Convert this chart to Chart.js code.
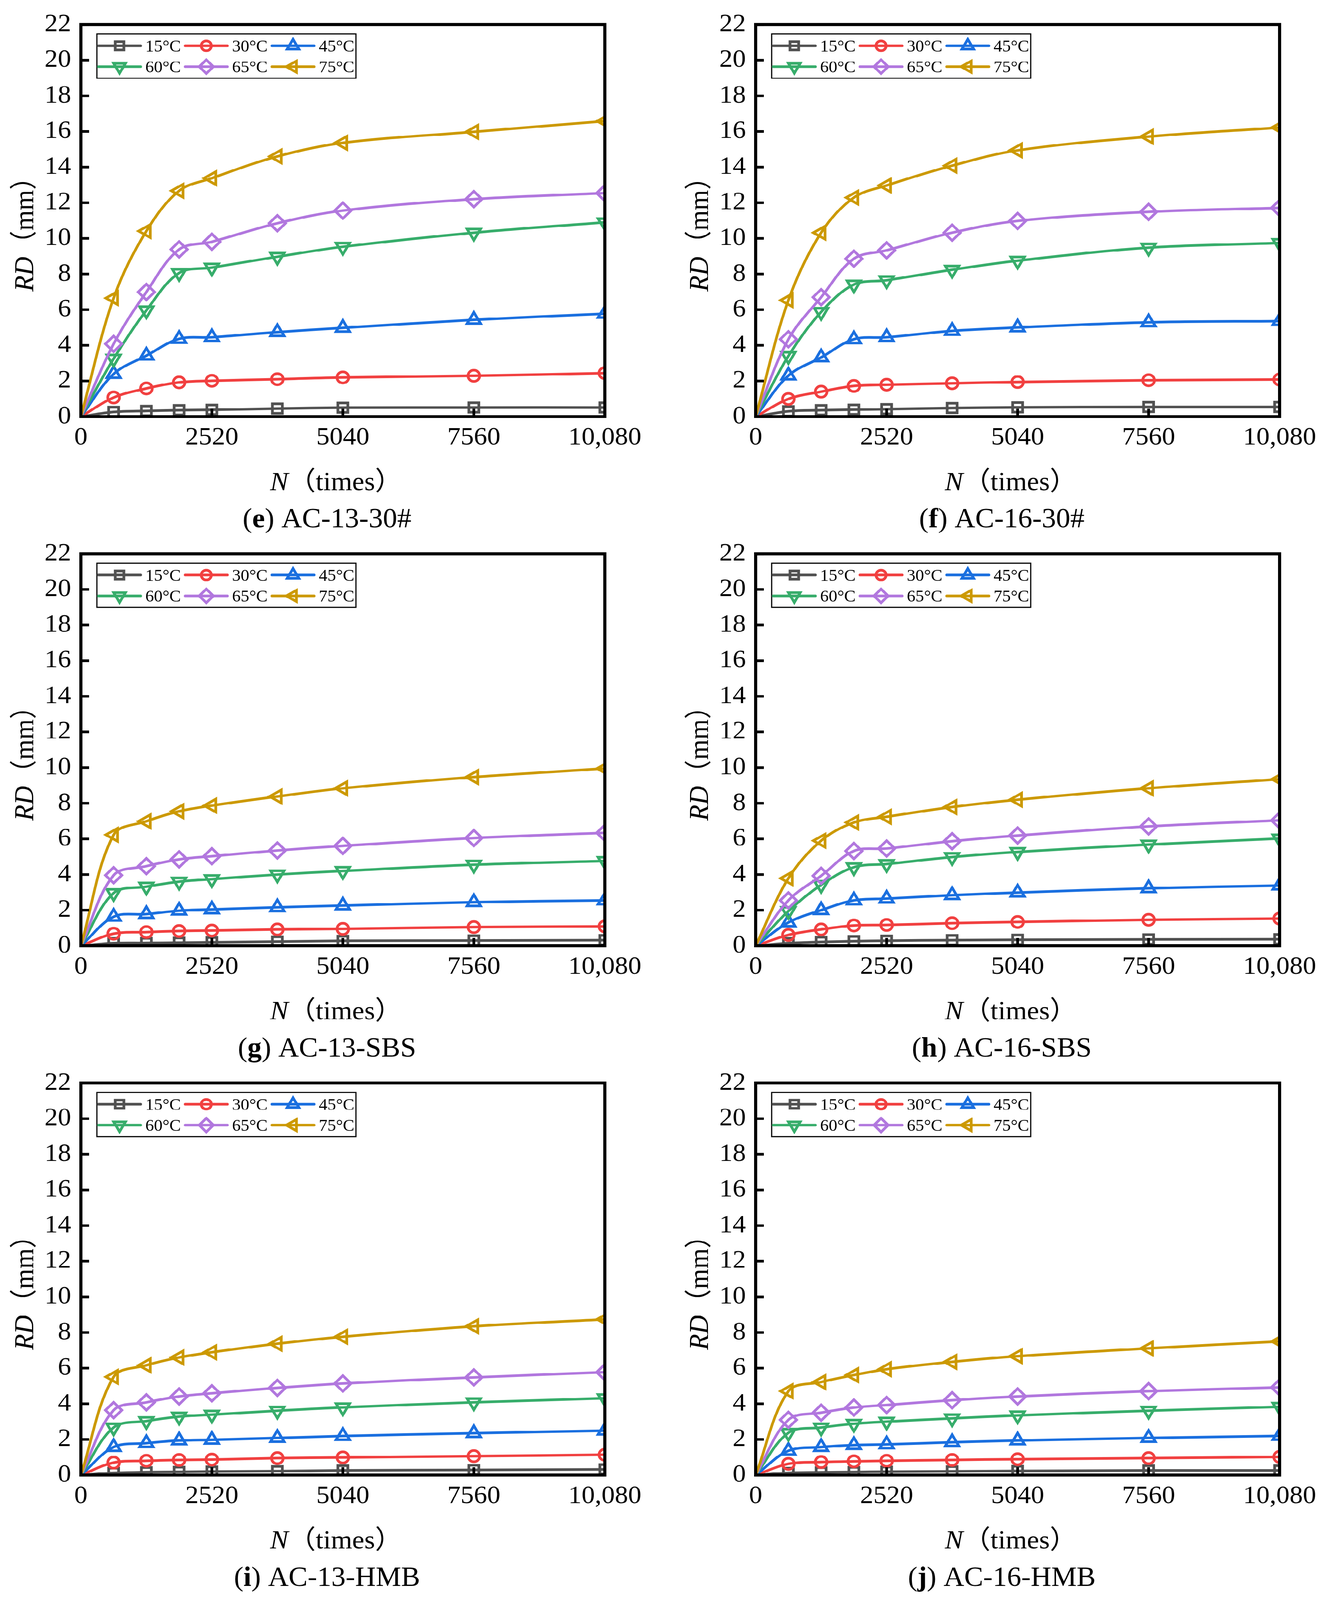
<!DOCTYPE html>
<html lang="en">
<head>
<meta charset="UTF-8">
<title>RD vs N</title>
<script src="https://cdn.jsdelivr.net/npm/chart.js"></script>
<style>
  html, body { margin:0; padding:0; background:#fff; overflow:hidden; height:100%; }
  #wrap { position:relative; width:3404px; height:4290px; background:#fff; transform-origin:0 0; }
  canvas { position:absolute; }
</style>
</head>
<body>
<div id="wrap"></div>
<script>
// loading cycles (x) and tick labels
const cycles = [0, 630, 1260, 1890, 2520, 3780, 5040, 7560, 10080];
const xTickValues = [0, 2520, 5040, 7560, 10080];
const xTickLabels = ['0', '2520', '5040', '7560', '10,080'];
const yTickValues = [0, 2, 4, 6, 8, 10, 12, 14, 16, 18, 20, 22];

const temps = ['15°C', '30°C', '45°C', '60°C', '65°C', '75°C'];

// rut depth (mm), one row per temperature
const rdAC13_30 = [
  [0, 0.26, 0.32, 0.36, 0.38, 0.45, 0.50, 0.51, 0.51],
  [0, 1.07, 1.58, 1.92, 2.01, 2.10, 2.20, 2.29, 2.44],
  [0, 2.39, 3.42, 4.36, 4.45, 4.74, 4.98, 5.43, 5.77],
  [0, 3.25, 5.96, 8.06, 8.36, 8.97, 9.53, 10.32, 10.90],
  [0, 4.08, 6.99, 9.38, 9.81, 10.85, 11.56, 12.20, 12.54],
  [0, 6.65, 10.41, 12.67, 13.38, 14.60, 15.36, 15.98, 16.58]
];
const rdAC16_30 = [
  [0, 0.30, 0.36, 0.39, 0.42, 0.48, 0.52, 0.54, 0.54],
  [0, 0.99, 1.40, 1.72, 1.79, 1.87, 1.94, 2.04, 2.08],
  [0, 2.30, 3.32, 4.34, 4.45, 4.81, 5.00, 5.29, 5.36],
  [0, 3.40, 5.87, 7.41, 7.65, 8.24, 8.75, 9.48, 9.74],
  [0, 4.34, 6.70, 8.86, 9.33, 10.32, 10.98, 11.49, 11.71],
  [0, 6.53, 10.32, 12.29, 12.97, 14.08, 14.94, 15.71, 16.22]
];
const rdAC13_SBS = [
  [0, 0.15, 0.16, 0.18, 0.20, 0.24, 0.28, 0.30, 0.32],
  [0, 0.68, 0.77, 0.83, 0.86, 0.92, 0.95, 1.05, 1.09],
  [0, 1.63, 1.78, 1.97, 2.04, 2.16, 2.26, 2.45, 2.55],
  [0, 2.96, 3.32, 3.60, 3.74, 4.00, 4.20, 4.55, 4.76],
  [0, 3.96, 4.47, 4.85, 5.03, 5.35, 5.61, 6.05, 6.34],
  [0, 6.23, 6.99, 7.55, 7.87, 8.38, 8.84, 9.47, 9.95]
];
const rdAC16_SBS = [
  [0, 0.15, 0.22, 0.26, 0.29, 0.32, 0.34, 0.36, 0.37],
  [0, 0.61, 0.92, 1.14, 1.17, 1.27, 1.34, 1.46, 1.53],
  [0, 1.31, 2.00, 2.55, 2.65, 2.84, 2.99, 3.23, 3.38],
  [0, 1.95, 3.42, 4.41, 4.59, 4.98, 5.27, 5.68, 6.02],
  [0, 2.55, 3.93, 5.32, 5.46, 5.87, 6.19, 6.70, 7.04],
  [0, 3.79, 5.90, 6.92, 7.24, 7.79, 8.20, 8.84, 9.35]
];
const rdAC13_HMB = [
  [0, 0.12, 0.16, 0.18, 0.20, 0.22, 0.26, 0.29, 0.32],
  [0, 0.70, 0.80, 0.85, 0.87, 0.95, 0.99, 1.06, 1.14],
  [0, 1.57, 1.79, 1.94, 1.98, 2.08, 2.19, 2.35, 2.49],
  [0, 2.67, 3.03, 3.28, 3.39, 3.61, 3.80, 4.08, 4.31],
  [0, 3.64, 4.08, 4.41, 4.59, 4.89, 5.14, 5.48, 5.77],
  [0, 5.51, 6.16, 6.60, 6.89, 7.37, 7.76, 8.35, 8.74]
];
const rdAC16_HMB = [
  [0, 0.12, 0.15, 0.17, 0.19, 0.21, 0.23, 0.26, 0.26],
  [0, 0.63, 0.73, 0.77, 0.80, 0.85, 0.89, 0.95, 1.02],
  [0, 1.36, 1.57, 1.68, 1.72, 1.84, 1.94, 2.08, 2.20],
  [0, 2.37, 2.67, 2.88, 3.00, 3.18, 3.35, 3.61, 3.83],
  [0, 3.10, 3.50, 3.79, 3.93, 4.20, 4.41, 4.71, 4.92],
  [0, 4.71, 5.22, 5.61, 5.94, 6.35, 6.67, 7.11, 7.50]
];

const panelTags = ['e', 'f', 'g', 'h', 'i', 'j'];
const panelNames = ['AC-13-30#', 'AC-16-30#', 'AC-13-SBS', 'AC-16-SBS', 'AC-13-HMB', 'AC-16-HMB'];
const panelData = [rdAC13_30, rdAC16_30, rdAC13_SBS, rdAC16_SBS, rdAC13_HMB, rdAC16_HMB];

// look (Origin-like)
const seriesColors = ['#515151', '#F14040', '#1A6FDF', '#37AD6B', '#B177DE', '#CC9900'];
const markStyles = ['rect', 'circle', 'triangle', 'triangle', 'rectRot', 'triangle'];
const markRotation = [0, 0, 0, 180, 0, -90];
const markRadius = [18, 15, 20, 20, 21, 20];

const SERIF = "'Liberation Serif', 'Noto Sans CJK SC', serif";
const CW = 1677, CH = 1440;     // canvas size per panel

// draw mixed font text pieces in one line, starting at x (left aligned)
function drawParts(ctx, parts, x, y) {
  parts.forEach(p => {
    ctx.font = p[1];
    ctx.fillText(p[0], x, y);
    x += ctx.measureText(p[0]).width;
  });
}
function partsWidth(ctx, parts) {
  let w = 0;
  parts.forEach(p => { ctx.font = p[1]; w += ctx.measureText(p[0]).width; });
  return w;
}

// frame, inward ticks, legend box, axis titles, caption
const framePlugin = {
  id: 'frame',
  afterDraw(chart) {
    const ctx = chart.ctx, a = chart.chartArea;
    const xs = chart.scales.x, ys = chart.scales.y;
    ctx.save();
    ctx.strokeStyle = '#000';
    ctx.lineWidth = 8;
    ctx.strokeRect(a.left, a.top, a.right - a.left, a.bottom - a.top);

    ctx.lineWidth = 7;
    ys.ticks.forEach(t => {
      const py = ys.getPixelForValue(t.value);
      ctx.beginPath(); ctx.moveTo(a.left, py); ctx.lineTo(a.left + 21, py); ctx.stroke();
    });
    xs.ticks.forEach(t => {
      const px = xs.getPixelForValue(t.value);
      ctx.beginPath(); ctx.moveTo(px, a.bottom); ctx.lineTo(px, a.bottom - 21); ctx.stroke();
    });

    // legend
    const bl = a.left + 41, bt = a.top + 25;
    ctx.lineWidth = 3;
    ctx.strokeRect(bl, bt, 663, 119);
    chart.data.datasets.forEach((ds, i) => {
      const col = i % 3, row = Math.floor(i / 3);
      const x0 = bl + 4 + col * 222, cy = bt + 32 + row * 56;
      ctx.strokeStyle = ds.borderColor;
      ctx.lineWidth = 7;
      ctx.lineCap = 'round';
      ctx.beginPath(); ctx.moveTo(x0, cy); ctx.lineTo(x0 + 108, cy); ctx.stroke();
      ctx.lineCap = 'butt';
      ctx.fillStyle = 'rgba(0,0,0,0)';
      Chart.helpers.drawPoint(ctx, {
        pointStyle: markStyles[i], rotation: markRotation[i],
        radius: markRadius[i] * 0.87, borderWidth: 6
      }, x0 + 54, cy);
      ctx.fillStyle = '#000';
      ctx.font = '44px ' + SERIF;
      ctx.textAlign = 'left';
      ctx.textBaseline = 'alphabetic';
      ctx.fillText(ds.label, x0 + 120, cy + 15);
    });

    ctx.fillStyle = '#000';
    ctx.textAlign = 'left';
    ctx.textBaseline = 'alphabetic';

    // x title
    const xt = [['N', 'italic 70px ' + SERIF], ['（times）', '70px ' + SERIF]];
    const cx = (a.left + a.right) / 2 - 17;
    drawParts(ctx, xt, cx - partsWidth(ctx, xt) / 2, a.bottom + 197);

    // y title (rotated)
    const yt = [['RD', 'italic 70px ' + SERIF], ['（mm）', '70px ' + SERIF]];
    ctx.save();
    ctx.translate(a.left - 122, (a.top + a.bottom) / 2 + 19);
    ctx.rotate(-Math.PI / 2);
    drawParts(ctx, yt, -partsWidth(ctx, yt) / 2, 0);
    ctx.restore();

    // caption
    const tag = chart.options.plugins.frame.tag, name = chart.options.plugins.frame.name;
    const cp = [['(', '73px ' + SERIF], [tag, 'bold 73px ' + SERIF], [') ' + name, '73px ' + SERIF]];
    drawParts(ctx, cp, a.left + 630 - partsWidth(ctx, cp) / 2, a.bottom + 297);
    ctx.restore();
  }
};

const wrap = document.getElementById('wrap');
// the window may be shorter than the figure: squeeze the whole page to fit
const sx = Math.min(1, window.innerWidth / 3404), sy = Math.min(1, window.innerHeight / 4290);
wrap.style.transform = 'scale(' + sx + ',' + sy + ')';

panelData.forEach((rd, p) => {
  const cv = document.createElement('canvas');
  cv.width = CW; cv.height = CH;
  cv.style.left = (p % 2) * 1727 + 'px';
  cv.style.top = Math.floor(p / 2) * 1419 + 'px';
  wrap.appendChild(cv);

  new Chart(cv, {
    type: 'line',
    data: {
      datasets: temps.map((t, i) => ({
        label: t,
        data: cycles.map((c, k) => ({ x: c, y: rd[i][k] })),
        borderColor: seriesColors[i],
        backgroundColor: 'rgba(0,0,0,0)',
        borderWidth: 7,
        tension: 0.35,
        pointStyle: markStyles[i],
        pointRotation: markRotation[i],
        pointRadius: cycles.map(c => c === 0 ? 0 : markRadius[i]),
        pointBorderWidth: 7,
        pointBorderColor: seriesColors[i],
        pointBackgroundColor: 'rgba(0,0,0,0)',
        clip: 0,
        order: 5 - i
      }))
    },
    options: {
      responsive: false,
      animation: false,
      devicePixelRatio: 1,
      events: [],
      layout: { padding: { left: 0, top: 57, right: 129, bottom: 0 } },
      plugins: {
        legend: { display: false },
        tooltip: { enabled: false },
        frame: { tag: panelTags[p], name: panelNames[p] }
      },
      scales: {
        x: {
          type: 'linear', min: 0, max: 10080,
          grid: { display: false, drawTicks: false },
          border: { display: false },
          afterBuildTicks: s => { s.ticks = xTickValues.map(v => ({ value: v })); },
          afterFit: s => { s.height = CH - 1117; },
          ticks: {
            autoSkip: false, maxRotation: 0, padding: 16, color: '#000',
            font: { family: SERIF, size: 68 },
            callback: v => xTickLabels[xTickValues.indexOf(v)]
          }
        },
        y: {
          min: 0, max: 22,
          grid: { display: false, drawTicks: false },
          border: { display: false },
          afterBuildTicks: s => { s.ticks = yTickValues.map(v => ({ value: v })); },
          afterFit: s => { s.width = 207; },
          ticks: {
            padding: 25, color: '#000',
            font: { family: SERIF, size: 68 }
          }
        }
      }
    },
    plugins: [framePlugin]
  });
});
</script>
</body>
</html>
